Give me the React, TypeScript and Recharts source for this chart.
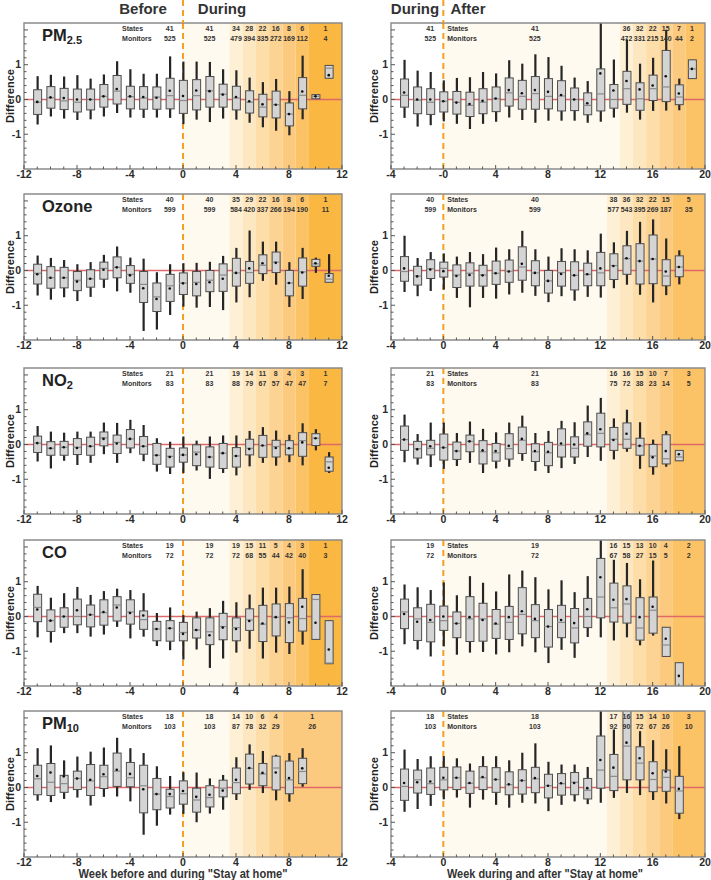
import React from 'react'
import { ComposedChart, Bar, Scatter, XAxis, YAxis, ReferenceArea, ReferenceLine, ReferenceDot } from 'recharts'

// one row per week: [min, q1, median, q3, max, mean]
type Stat = [number, number, number, number, number, number]

const LEFT_START = -11
const RIGHT_START = -3

const PM25_LEFT: Stat[] = [
  [-0.72, -0.43, -0.08, 0.28, 0.67, -0.07], [-0.49, -0.25, 0.05, 0.37, 0.71, 0.06], [-0.55, -0.29, -0.04, 0.32, 0.66, 0.04],
  [-0.59, -0.36, -0.08, 0.3, 0.7, 0.0], [-0.57, -0.3, 0.0, 0.3, 0.6, 0.0], [-0.49, -0.22, 0.09, 0.43, 0.72, 0.09],
  [-0.39, -0.13, 0.24, 0.69, 1.1, 0.3], [-0.52, -0.27, 0.08, 0.38, 0.87, 0.09], [-0.53, -0.28, 0.04, 0.37, 0.74, 0.07],
  [-0.52, -0.28, 0.07, 0.36, 0.74, 0.05], [-0.53, -0.27, 0.11, 0.61, 1.24, 0.25], [-0.71, -0.4, -0.03, 0.55, 1.09, 0.1],
  [-0.58, -0.3, 0.11, 0.57, 1.09, 0.26], [-0.65, -0.22, 0.25, 0.66, 1.08, 0.24], [-0.55, -0.22, 0.15, 0.44, 0.87, 0.14],
  [-0.58, -0.3, 0.04, 0.38, 0.84, 0.07], [-0.67, -0.39, -0.08, 0.25, 0.63, -0.05], [-0.8, -0.5, -0.22, 0.15, 0.5, -0.14],
  [-0.9, -0.53, -0.15, 0.24, 0.59, -0.15], [-1.03, -0.76, -0.42, -0.1, 0.24, -0.42], [-0.57, -0.27, 0.12, 0.63, 1.26, 0.23],
  [0.02, 0.02, 0.09, 0.14, 0.14, 0.09], [0.61, 0.61, 0.9, 0.98, 0.98, 0.7],
]
const PM25_RIGHT: Stat[] = [
  [-0.53, -0.22, 0.12, 0.59, 1.14, 0.2], [-0.78, -0.41, -0.02, 0.36, 0.83, 0.0], [-0.74, -0.43, -0.08, 0.31, 0.79, 0.0],
  [-0.63, -0.36, -0.05, 0.22, 0.55, -0.05], [-0.7, -0.42, -0.08, 0.23, 0.62, -0.09], [-0.85, -0.49, -0.17, 0.21, 0.64, -0.13],
  [-0.7, -0.41, -0.08, 0.31, 0.79, -0.04], [-0.64, -0.35, 0.02, 0.36, 0.75, 0.03], [-0.52, -0.19, 0.19, 0.62, 1.13, 0.27],
  [-0.59, -0.28, 0.09, 0.55, 1.03, 0.18], [-0.67, -0.28, 0.17, 0.66, 1.3, 0.27], [-0.61, -0.27, 0.09, 0.6, 1.22, 0.22],
  [-0.61, -0.33, 0.1, 0.54, 0.97, 0.13], [-0.61, -0.32, 0.0, 0.33, 0.63, 0.0], [-0.67, -0.44, -0.17, 0.19, 0.53, -0.11],
  [-0.64, -0.33, 0.16, 0.88, 2.5, 0.75], [-0.52, -0.25, 0.0, 0.43, 1.15, 0.26], [-0.38, -0.14, 0.31, 0.81, 1.73, 0.53],
  [-0.58, -0.31, 0.02, 0.48, 1.03, 0.29], [-0.33, -0.03, 0.31, 0.7, 1.2, 0.4], [-0.32, -0.06, 0.36, 1.41, 2.0, 0.67],
  [-0.31, -0.15, 0.07, 0.42, 0.6, 0.17], [0.6, 0.6, 0.88, 1.14, 1.14, 0.88],
]
const OZONE_LEFT: Stat[] = [
  [-0.72, -0.39, -0.08, 0.18, 0.43, -0.11], [-0.84, -0.51, -0.21, 0.11, 0.36, -0.21], [-0.77, -0.5, -0.21, 0.09, 0.3, -0.21],
  [-0.88, -0.58, -0.28, -0.03, 0.18, -0.32], [-0.76, -0.48, -0.24, 0.02, 0.24, -0.24], [-0.5, -0.25, 0.06, 0.24, 0.45, 0.02],
  [-0.6, -0.21, 0.09, 0.39, 0.69, 0.09], [-0.64, -0.37, -0.11, 0.14, 0.37, -0.14], [-1.74, -0.92, -0.4, -0.03, 0.34, -0.51],
  [-1.7, -1.18, -0.76, -0.36, -0.05, -0.82], [-1.28, -0.89, -0.44, -0.11, 0.18, -0.52], [-1.04, -0.69, -0.36, -0.07, 0.21, -0.37],
  [-1.07, -0.73, -0.34, -0.03, 0.22, -0.39], [-1.05, -0.61, -0.28, 0.0, 0.25, -0.34], [-1.14, -0.6, -0.13, 0.19, 0.42, -0.24],
  [-0.92, -0.45, -0.07, 0.35, 0.65, -0.07], [-0.77, -0.37, -0.06, 0.26, 1.15, 0.06], [-0.3, -0.09, 0.15, 0.45, 0.83, 0.21],
  [-0.41, -0.06, 0.24, 0.53, 0.83, 0.22], [-1.05, -0.73, -0.36, 0.0, 0.24, -0.36], [-0.82, -0.45, -0.04, 0.36, 0.65, -0.06],
  [-0.07, 0.12, 0.19, 0.32, 0.37, 0.21], [-0.34, -0.34, -0.25, -0.09, 0.47, -0.15],
]
const OZONE_RIGHT: Stat[] = [
  [-0.62, -0.31, -0.03, 0.4, 1.0, 0.06], [-0.74, -0.42, -0.16, 0.12, 0.36, -0.17], [-0.59, -0.23, 0.05, 0.31, 0.53, 0.03],
  [-0.55, -0.19, 0.06, 0.24, 0.49, -0.02], [-0.79, -0.49, -0.13, 0.16, 0.4, -0.16], [-1.06, -0.45, -0.08, 0.22, 0.53, -0.13],
  [-0.79, -0.45, -0.13, 0.15, 0.47, -0.14], [-0.81, -0.4, -0.08, 0.27, 0.66, -0.08], [-0.69, -0.34, -0.02, 0.3, 0.61, -0.03],
  [-0.64, -0.28, 0.1, 0.68, 1.14, 0.19], [-0.73, -0.44, -0.07, 0.28, 0.61, -0.07], [-0.91, -0.65, -0.3, 0.0, 0.4, -0.3],
  [-0.74, -0.45, -0.06, 0.26, 0.64, -0.1], [-0.87, -0.56, -0.14, 0.25, 0.61, -0.14], [-0.76, -0.44, -0.11, 0.21, 0.58, -0.11],
  [-0.78, -0.44, -0.07, 0.52, 1.06, 0.06], [-0.51, -0.26, 0.14, 0.48, 0.81, 0.13], [-0.41, -0.11, 0.34, 0.71, 1.14, 0.35],
  [-0.7, -0.39, 0.27, 0.77, 1.4, 0.27], [-0.92, -0.38, 0.33, 1.02, 1.47, 0.33], [-0.71, -0.44, -0.16, 0.31, 0.92, -0.03],
  [-0.4, -0.18, 0.1, 0.42, 0.58, 0.1],
]
const NO2_LEFT: Stat[] = [
  [-0.49, -0.23, 0.04, 0.24, 0.53, 0.04], [-0.69, -0.31, -0.11, 0.08, 0.37, -0.11], [-0.47, -0.31, -0.08, 0.09, 0.34, -0.08],
  [-0.59, -0.29, -0.08, 0.17, 0.37, -0.1], [-0.53, -0.31, -0.05, 0.21, 0.37, -0.05], [-0.28, -0.04, 0.19, 0.36, 0.63, 0.16],
  [-0.53, -0.26, 0.06, 0.27, 0.62, 0.03], [-0.25, -0.1, 0.16, 0.43, 0.71, 0.16], [-0.48, -0.28, -0.05, 0.23, 0.56, -0.05],
  [-0.78, -0.57, -0.31, 0.03, 0.18, -0.31], [-0.85, -0.65, -0.34, -0.11, 0.08, -0.36], [-0.82, -0.51, -0.3, -0.1, 0.23, -0.3],
  [-0.75, -0.61, -0.22, -0.01, 0.11, -0.28], [-0.99, -0.65, -0.36, -0.07, 0.23, -0.36], [-0.82, -0.69, -0.25, 0.03, 0.26, -0.25],
  [-0.89, -0.65, -0.33, -0.09, 0.26, -0.33], [-0.63, -0.3, -0.11, 0.15, 0.39, -0.13], [-0.53, -0.37, -0.03, 0.26, 0.5, -0.03],
  [-0.61, -0.36, -0.06, 0.12, 0.4, -0.1], [-0.51, -0.3, -0.11, 0.11, 0.28, -0.11], [-0.6, -0.34, 0.11, 0.34, 0.61, 0.06],
  [-0.17, -0.03, 0.18, 0.31, 0.44, 0.18], [-0.82, -0.77, -0.5, -0.36, -0.22, -0.67],
]
const NO2_RIGHT: Stat[] = [
  [-0.51, -0.17, 0.14, 0.53, 0.86, 0.14], [-0.58, -0.39, -0.12, 0.09, 0.3, -0.14], [-0.65, -0.3, -0.11, 0.12, 0.63, -0.05],
  [-0.7, -0.45, -0.09, 0.3, 0.63, -0.09], [-0.62, -0.43, -0.19, 0.07, 0.33, -0.19], [-0.53, -0.21, 0.09, 0.27, 0.66, 0.09],
  [-0.82, -0.56, -0.21, 0.11, 0.45, -0.17], [-0.69, -0.48, -0.24, 0.03, 0.35, -0.19], [-0.64, -0.42, -0.12, 0.31, 0.63, -0.04],
  [-0.47, -0.26, 0.12, 0.5, 0.83, 0.16], [-0.76, -0.49, -0.21, 0.02, 0.33, -0.19], [-0.82, -0.61, -0.24, 0.06, 0.39, -0.21],
  [-0.68, -0.36, -0.02, 0.45, 0.68, 0.03], [-0.56, -0.36, -0.11, 0.22, 0.64, 0.0], [-0.36, -0.05, 0.28, 0.65, 1.12, 0.32],
  [-0.47, -0.07, 0.32, 0.9, 1.34, 0.44], [-0.43, -0.17, 0.15, 0.49, 0.75, 0.13], [-0.21, -0.11, 0.15, 0.62, 1.0, 0.31],
  [-0.7, -0.31, -0.04, 0.18, 0.64, -0.04], [-0.87, -0.64, -0.33, 0.0, 0.14, -0.37], [-0.64, -0.56, -0.41, 0.28, 0.39, -0.19],
  [-0.47, -0.47, -0.36, -0.17, -0.17, -0.28],
]
const CO_LEFT: Stat[] = [
  [-0.6, -0.15, 0.26, 0.64, 0.88, 0.2], [-0.75, -0.43, -0.12, 0.19, 0.54, -0.12], [-0.48, -0.31, 0.0, 0.25, 0.67, 0.0],
  [-0.48, -0.24, 0.0, 0.5, 0.85, 0.18], [-0.58, -0.3, 0.05, 0.33, 0.62, 0.05], [-0.52, -0.25, 0.11, 0.48, 0.73, 0.13],
  [-0.3, -0.13, 0.33, 0.57, 0.8, 0.26], [-0.63, -0.22, 0.13, 0.48, 0.76, 0.1], [-0.58, -0.37, -0.09, 0.16, 0.67, 0.03],
  [-0.85, -0.7, -0.36, -0.14, 0.1, -0.36], [-0.97, -0.71, -0.34, -0.12, 0.26, -0.34], [-1.24, -0.7, -0.46, -0.17, 0.04, -0.5],
  [-0.95, -0.62, -0.39, -0.04, 0.14, -0.39], [-1.48, -0.81, -0.44, -0.04, 0.24, -0.54], [-1.21, -0.67, -0.29, 0.09, 0.45, -0.32],
  [-1.04, -0.7, -0.32, -0.04, 0.41, -0.36], [-0.93, -0.4, -0.1, 0.22, 0.63, -0.13], [-1.21, -0.72, -0.22, 0.32, 0.83, -0.2],
  [-1.04, -0.56, -0.02, 0.36, 0.83, -0.02], [-1.08, -0.75, -0.04, 0.37, 0.86, -0.17], [-0.81, -0.42, -0.06, 0.52, 1.36, 0.28],
  [-0.66, -0.66, 0.49, 0.63, 0.63, -0.18], [-1.36, -1.36, -1.34, -0.12, -0.12, -0.95],
]
const CO_RIGHT: Stat[] = [
  [-0.8, -0.35, 0.13, 0.5, 0.92, 0.07], [-0.95, -0.69, -0.07, 0.25, 0.84, -0.15], [-1.15, -0.73, -0.17, 0.35, 0.76, -0.1],
  [-0.86, -0.4, -0.12, 0.3, 0.98, 0.0], [-1.1, -0.61, -0.2, 0.13, 0.61, -0.2], [-1.04, -0.72, -0.07, 0.57, 1.16, -0.02],
  [-1.02, -0.71, -0.07, 0.38, 0.97, -0.1], [-1.09, -0.63, -0.22, 0.2, 0.72, -0.2], [-1.03, -0.66, -0.17, 0.29, 1.21, -0.02],
  [-0.86, -0.5, 0.06, 0.83, 1.32, 0.15], [-1.03, -0.61, -0.12, 0.34, 1.13, -0.07], [-1.34, -0.88, -0.29, 0.2, 0.78, -0.29],
  [-0.96, -0.61, -0.17, 0.32, 1.04, -0.1], [-1.19, -0.76, -0.33, 0.23, 0.7, -0.19], [-0.59, -0.32, 0.0, 0.52, 1.16, 0.21],
  [-0.6, -0.04, 0.56, 1.67, 2.4, 1.13], [-0.69, -0.16, 0.25, 0.96, 1.63, 0.48], [-0.6, -0.19, 0.36, 0.88, 1.54, 0.5],
  [-0.83, -0.68, -0.33, 0.54, 1.07, -0.02], [-0.55, -0.48, 0.18, 0.56, 1.61, 0.28], [-1.15, -1.15, -0.82, -0.31, -0.31, -0.64],
  [-2.4, -2.4, -2.4, -1.33, -1.33, -1.71],
]
const PM10_LEFT: Stat[] = [
  [-0.38, -0.21, 0.25, 0.64, 1.13, 0.33], [-0.42, -0.23, 0.15, 0.69, 1.21, 0.43], [-0.33, -0.14, 0.11, 0.35, 0.78, 0.32],
  [-0.29, -0.06, 0.26, 0.47, 0.89, 0.26], [-0.52, -0.23, 0.19, 0.66, 1.03, 0.22], [-0.27, -0.03, 0.31, 0.64, 1.15, 0.38],
  [-0.26, 0.03, 0.47, 0.99, 1.43, 0.51], [-0.4, 0.02, 0.28, 0.72, 1.13, 0.39], [-1.36, -0.73, 0.05, 0.64, 0.99, -0.05],
  [-1.1, -0.64, -0.19, 0.26, 0.61, -0.19], [-0.78, -0.59, -0.26, -0.05, 0.33, -0.19], [-0.76, -0.48, -0.18, 0.19, 0.44, -0.1],
  [-1.0, -0.71, -0.36, -0.02, 0.43, -0.27], [-0.75, -0.56, -0.29, 0.05, 0.26, -0.21], [-0.64, -0.27, -0.02, 0.21, 0.36, -0.09],
  [-0.36, -0.18, 0.14, 0.56, 0.87, 0.22], [-0.07, 0.1, 0.55, 0.96, 1.24, 0.56], [-0.16, 0.05, 0.39, 0.69, 1.05, 0.42],
  [-0.37, -0.07, 0.56, 0.9, 0.94, 0.43], [-0.41, -0.18, 0.22, 0.76, 0.99, 0.27], [0.02, 0.11, 0.46, 0.84, 1.13, 0.55],
]
const PM10_RIGHT: Stat[] = [
  [-0.7, -0.37, 0.03, 0.53, 1.09, 0.13], [-0.62, -0.16, 0.22, 0.5, 0.82, 0.15], [-0.53, -0.2, 0.11, 0.56, 0.9, 0.17],
  [-0.34, -0.07, 0.22, 0.58, 0.9, 0.28], [-0.29, -0.06, 0.28, 0.59, 0.84, 0.28], [-0.58, -0.17, 0.12, 0.47, 0.69, 0.13],
  [-0.35, -0.06, 0.28, 0.6, 0.9, 0.3], [-0.5, -0.14, 0.23, 0.57, 0.9, 0.23], [-0.58, -0.21, 0.08, 0.45, 0.78, 0.09],
  [-0.44, -0.19, 0.2, 0.51, 1.0, 0.2], [-0.46, -0.15, 0.25, 0.58, 1.27, 0.27], [-0.68, -0.3, 0.05, 0.38, 0.74, 0.05],
  [-0.5, -0.22, 0.11, 0.4, 0.66, 0.12], [-0.4, -0.21, 0.15, 0.43, 0.66, 0.13], [-0.48, -0.33, -0.08, 0.26, 0.59, -0.02],
  [-0.44, -0.02, 0.5, 1.48, 2.4, 0.79], [-0.3, -0.09, 0.32, 0.95, 1.67, 0.57], [-0.16, 0.22, 1.19, 2.4, 2.5, 1.29],
  [-0.22, 0.22, 0.7, 1.17, 1.62, 0.84], [-0.36, -0.12, 0.23, 0.74, 1.36, 0.41], [-0.46, -0.11, 0.29, 0.5, 1.1, 0.46],
  [-0.91, -0.74, -0.1, 0.32, 1.19, -0.04],
]

// [week, states, monitors]
type Count = [number, string, string]
const PM25_LEFT_COUNTS: Count[] = [[-1, '41', '525'], [2, '41', '525'], [4, '34', '479'], [5, '28', '394'], [6, '22', '335'], [7, '16', '272'], [8, '8', '169'], [9, '6', '112'], [10.75, '1', '4']]
const PM25_RIGHT_COUNTS: Count[] = [[-1, '41', '525'], [7, '41', '525'], [14, '36', '472'], [15, '32', '331'], [16, '22', '215'], [17, '15', '140'], [18, '7', '44'], [19, '1', '2']]
const OZONE_LEFT_COUNTS: Count[] = [[-1, '40', '599'], [2, '40', '599'], [4, '35', '584'], [5, '29', '420'], [6, '22', '337'], [7, '16', '266'], [8, '8', '194'], [9, '6', '190'], [10.75, '1', '11']]
const OZONE_RIGHT_COUNTS: Count[] = [[-1, '40', '599'], [7, '40', '599'], [13, '38', '577'], [14, '36', '543'], [15, '32', '395'], [16, '22', '269'], [17, '15', '187'], [18.75, '5', '35']]
const NO2_LEFT_COUNTS: Count[] = [[-1, '21', '83'], [2, '21', '83'], [4, '19', '88'], [5, '14', '79'], [6, '11', '67'], [7, '8', '57'], [8, '4', '47'], [9, '3', '47'], [10.75, '1', '7']]
const NO2_RIGHT_COUNTS: Count[] = [[-1, '21', '83'], [7, '21', '83'], [13, '16', '75'], [14, '16', '72'], [15, '15', '38'], [16, '10', '23'], [17, '7', '14'], [18.75, '3', '5']]
const CO_LEFT_COUNTS: Count[] = [[-1, '19', '72'], [2, '19', '72'], [4, '19', '72'], [5, '15', '68'], [6, '11', '55'], [7, '5', '44'], [8, '4', '42'], [9, '3', '40'], [10.75, '1', '3']]
const CO_RIGHT_COUNTS: Count[] = [[-1, '19', '72'], [7, '19', '72'], [13, '16', '67'], [14, '15', '58'], [15, '13', '27'], [16, '10', '15'], [17, '4', '5'], [18.75, '2', '2']]
const PM10_LEFT_COUNTS: Count[] = [[-1, '18', '103'], [2, '18', '103'], [4, '14', '87'], [5, '10', '78'], [6, '6', '32'], [7, '4', '29'], [9.75, '1', '26']]
const PM10_RIGHT_COUNTS: Count[] = [[-1, '18', '103'], [7, '18', '103'], [13, '17', '92'], [14, '16', '90'], [15, '15', '72'], [16, '14', '67'], [17, '10', '26'], [18.75, '3', '10']]

// band edges (weeks), shaded lightest to darkest
const LEFT_BANDS = [0, 3.5, 4.5, 5.5, 6.5, 7.5, 8.5, 9.5, 12]
const PM10_LEFT_BANDS = [0, 3.5, 4.5, 5.5, 6.5, 7.5, 12]
const PM25_RIGHT_BANDS = [0, 13.5, 14.5, 15.5, 16.5, 17.5, 18.5, 20]
const RIGHT_BANDS = [0, 12.5, 13.5, 14.5, 15.5, 16.5, 17.5, 20]
const BAND_COLOURS = ['#FFFAF0', '#FEF0D5', '#FDE7C0', '#FDDDA8', '#FCD392', '#FCCA7E', '#FBC266', '#FAB842']

const LEFT_X_TICKS = [-12, -11, -10, -9, -8, -7, -6, -5, -4, -3, -2, -1, 0, 1, 2, 3, 4, 5, 6, 7, 8, 9, 10, 11, 12]
const RIGHT_X_TICKS = [-4, -3, -2, -1, 0, 1, 2, 3, 4, 5, 6, 7, 8, 9, 10, 11, 12, 13, 14, 15, 16, 17, 18, 19, 20]
const Y_TICKS = [-1.8, -1.6, -1.4, -1.2, -1, -0.8, -0.6, -0.4, -0.2, 0, 0.2, 0.4, 0.6, 0.8, 1, 1.2, 1.4, 1.6, 1.8, 2]
const Y_DOMAIN: [number, number] = [-2, 2.2]
const STATES_Y = 2.04
const MONITORS_Y = 1.75

const ROWS = [
  { title: 'PM', sub: '2.5', left: PM25_LEFT, right: PM25_RIGHT, lc: PM25_LEFT_COUNTS, rc: PM25_RIGHT_COUNTS, lb: LEFT_BANDS, rb: PM25_RIGHT_BANDS },
  { title: 'Ozone', sub: '', left: OZONE_LEFT, right: OZONE_RIGHT, lc: OZONE_LEFT_COUNTS, rc: OZONE_RIGHT_COUNTS, lb: LEFT_BANDS, rb: RIGHT_BANDS },
  { title: 'NO', sub: '2', left: NO2_LEFT, right: NO2_RIGHT, lc: NO2_LEFT_COUNTS, rc: NO2_RIGHT_COUNTS, lb: LEFT_BANDS, rb: RIGHT_BANDS },
  { title: 'CO', sub: '', left: CO_LEFT, right: CO_RIGHT, lc: CO_LEFT_COUNTS, rc: CO_RIGHT_COUNTS, lb: LEFT_BANDS, rb: RIGHT_BANDS },
  { title: 'PM', sub: '10', left: PM10_LEFT, right: PM10_RIGHT, lc: PM10_LEFT_COUNTS, rc: PM10_RIGHT_COUNTS, lb: PM10_LEFT_BANDS, rb: RIGHT_BANDS },
]

const ROW_TOPS = [23, 194, 368, 540, 711]
const PLOT_H = 146
const TOP_M = 4
const XAXIS_H = 18
const CHART_H = TOP_M + PLOT_H + XAXIS_H
const LEFT_PLOT = { x: 24, w: 318 }
const RIGHT_PLOT = { x: 391, w: 314 }
const FONT = '"Liberation Sans", Arial, Helvetica, sans-serif'
const TEXT = '#2b2b2b'

const XTick = (p: any) => {
  const v = p.payload.value
  const major = v % 4 === 0
  return (
    <g>
      <line x1={p.x} x2={p.x} y1={p.y} y2={p.y - (major ? 4 : 2.5)} stroke="#555" strokeWidth={1} />
      {major && (
        <text x={p.x} y={p.y + 8.5} textAnchor="middle" fontSize={10.5} fontWeight={700} fill={TEXT}>
          {v === 0 ? p.zeroLabel : v}
        </text>
      )}
    </g>
  )
}

const YTick = (p: any) => {
  const v = p.payload.value
  const whole = Math.abs(v - Math.round(v)) < 1e-6
  return (
    <g>
      <line x1={p.x} x2={p.x + (whole ? 4 : 2.5)} y1={p.y} y2={p.y} stroke="#555" strokeWidth={1} />
      {whole && Math.abs(v) <= 1 && (
        <text x={p.x - 3} y={p.y} dy="0.36em" textAnchor="end" fontSize={10.5} fontWeight={700} fill={TEXT}>
          {Math.round(v)}
        </text>
      )}
    </g>
  )
}

const Whisker = (p: any) => {
  const cx = p.x + p.width / 2
  return <line x1={cx} x2={cx} y1={p.y} y2={p.y + p.height} stroke="#262626" strokeWidth={2.2} />
}
const Box = (p: any) => (
  <rect x={p.x} y={p.y} width={p.width} height={Math.max(p.height, 0.5)} fill="#d4d4d4" stroke="#4d4d4d" strokeWidth={1} />
)
const Median = (p: any) => <line x1={p.cx - 4} x2={p.cx + 4} y1={p.cy} y2={p.cy} stroke="#8a8a8a" strokeWidth={1.2} />
const Mean = (p: any) => <circle cx={p.cx} cy={p.cy} r={1.3} fill="#111" />

const countLabel = { fontSize: 7, fontWeight: 700, fill: '#333' }

function Panel(props: {
  stats: Stat[]; start: number; ticks: number[]; bands: number[]; counts: Count[]; wordX: number
  left: number; top: number; width: number; ml: number; mr: number; zeroLabel: string
}) {
  const { stats, start, ticks, bands, counts, wordX } = props
  const xDomain: [number, number] = [ticks[0], ticks[ticks.length - 1]]
  const data = stats.map((s, i) => ({ week: start + i, whisker: [s[0], s[4]], box: [s[1], s[3]], median: s[2], mean: s[5] }))
  return (
    <div style={{ position: 'absolute', left: props.left, top: props.top }}>
      <ComposedChart width={props.width} height={CHART_H} data={data} margin={{ top: TOP_M, right: props.mr, bottom: 0, left: props.ml }}>
        <XAxis dataKey="week" type="number" domain={xDomain} ticks={ticks} interval={0} allowDataOverflow
          height={XAXIS_H} axisLine={false} tickLine={false} tickSize={0} tickMargin={0}
          tick={(t: any) => <XTick {...t} zeroLabel={props.zeroLabel} />} />
        <XAxis xAxisId="box" dataKey="week" type="number" domain={xDomain} ticks={ticks} allowDataOverflow hide />
        <YAxis type="number" domain={Y_DOMAIN} ticks={Y_TICKS} interval={0} allowDataOverflow width={14}
          axisLine={false} tickLine={false} tickSize={0} tickMargin={0} tick={(t: any) => <YTick {...t} />} />
        {bands.slice(0, -1).map((b, i) => (
          <ReferenceArea key={'band' + b} x1={b} x2={bands[i + 1]} y1={Y_DOMAIN[0]} y2={Y_DOMAIN[1]}
            fill={BAND_COLOURS[i]} fillOpacity={1} stroke="none" />
        ))}
        <ReferenceLine y={0} stroke="#e06868" strokeWidth={1.3} zIndex={150} />
        <ReferenceLine x={0} stroke="#f5a020" strokeWidth={2} strokeDasharray="6 4" zIndex={150} />
        <Bar dataKey="whisker" barSize={8} isAnimationActive={false} shape={Whisker} />
        <Bar xAxisId="box" dataKey="box" barSize={8} isAnimationActive={false} shape={Box} />
        <Scatter dataKey="median" isAnimationActive={false} shape={Median} />
        <Scatter dataKey="mean" isAnimationActive={false} shape={Mean} />
        <ReferenceDot x={wordX} y={STATES_Y} r={0} fill="none" stroke="none"
          label={{ value: 'States', position: 'right', offset: 0, ...countLabel }} />
        <ReferenceDot x={wordX} y={MONITORS_Y} r={0} fill="none" stroke="none"
          label={{ value: 'Monitors', position: 'right', offset: 0, ...countLabel }} />
        {counts.map(([x, s, m]) => (
          <React.Fragment key={'c' + x}>
            <ReferenceDot x={x} y={STATES_Y} r={0} fill="none" stroke="none" label={{ value: s, position: 'center', ...countLabel }} />
            <ReferenceDot x={x} y={MONITORS_Y} r={0} fill="none" stroke="none" label={{ value: m, position: 'center', ...countLabel }} />
          </React.Fragment>
        ))}
        <ReferenceArea x1={xDomain[0]} x2={xDomain[1]} y1={Y_DOMAIN[0]} y2={Y_DOMAIN[1]} fill="none"
          stroke="#8a8a8a" strokeWidth={1.4} ifOverflow="visible" zIndex={700} />
      </ComposedChart>
    </div>
  )
}

export default function App() {
  const leftZero = LEFT_PLOT.x + (0 - LEFT_X_TICKS[0]) * LEFT_PLOT.w / (LEFT_X_TICKS[LEFT_X_TICKS.length - 1] - LEFT_X_TICKS[0])
  const rightZero = RIGHT_PLOT.x + (0 - RIGHT_X_TICKS[0]) * RIGHT_PLOT.w / (RIGHT_X_TICKS[RIGHT_X_TICKS.length - 1] - RIGHT_X_TICKS[0])
  return (
    <div style={{ position: 'absolute', left: 0, top: 0, width: 711, height: 880, background: '#fff', fontFamily: FONT, overflow: 'hidden' }}>
      {ROWS.map((r, i) => (
        <React.Fragment key={r.title + i}>
          <Panel stats={r.left} start={LEFT_START} ticks={LEFT_X_TICKS} bands={r.lb} counts={r.lc} wordX={-4.6}
            left={0} top={ROW_TOPS[i] - TOP_M} width={350} ml={10} mr={8} zeroLabel="0" />
          <Panel stats={r.right} start={RIGHT_START} ticks={RIGHT_X_TICKS} bands={r.rb} counts={r.rc} wordX={0.3}
            left={357} top={ROW_TOPS[i] - TOP_M} width={354} ml={20} mr={6} zeroLabel={i === 0 ? '-0' : '0'} />
        </React.Fragment>
      ))}
      <svg width={711} height={880} style={{ position: 'absolute', left: 0, top: 0, pointerEvents: 'none' }}>
        <g fontWeight={700} fill="#333" fontSize={15}>
          <text x={143} y={13.5} textAnchor="middle">Before</text>
          <text x={222} y={13.5} textAnchor="middle">During</text>
          <text x={415} y={13.5} textAnchor="middle">During</text>
          <text x={468} y={13.5} textAnchor="middle">After</text>
        </g>
        <line x1={leftZero} x2={leftZero} y1={0} y2={ROW_TOPS[0]} stroke="#f5a020" strokeWidth={2} strokeDasharray="6 4" />
        <line x1={rightZero} x2={rightZero} y1={0} y2={ROW_TOPS[0]} stroke="#f5a020" strokeWidth={2} strokeDasharray="6 4" />
        {ROWS.map((r, i) => (
          <g key={'t' + i} fontWeight={700} fill="#222">
            <text x={LEFT_PLOT.x + 18} y={ROW_TOPS[i] + 18} fontSize={16.5}>
              {r.title}
              {r.sub && <tspan fontSize={11} dy={3}>{r.sub}</tspan>}
            </text>
            <text x={10} y={ROW_TOPS[i] + PLOT_H / 2} dy="0.35em" fontSize={11} textAnchor="middle"
              transform={`rotate(-90 10 ${ROW_TOPS[i] + PLOT_H / 2})`}>Difference</text>
            <text x={374} y={ROW_TOPS[i] + PLOT_H / 2} dy="0.35em" fontSize={11} textAnchor="middle"
              transform={`rotate(-90 374 ${ROW_TOPS[i] + PLOT_H / 2})`}>Difference</text>
          </g>
        ))}
        <g fontWeight={700} fill="#333" fontSize={12}>
          <text x={leftZero} y={877.5} textAnchor="middle" textLength={209} lengthAdjust="spacingAndGlyphs">
            {'Week before and during "Stay at home"'}
          </text>
          <text x={RIGHT_PLOT.x + RIGHT_PLOT.w / 2 - 3} y={877.5} textAnchor="middle" textLength={196} lengthAdjust="spacingAndGlyphs">
            {'Week during and after "Stay at home"'}
          </text>
        </g>
      </svg>
    </div>
  )
}
